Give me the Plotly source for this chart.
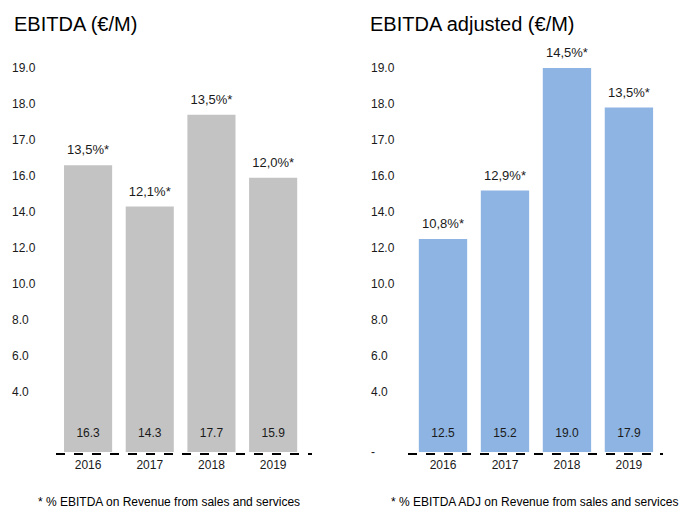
import numpy as np
import plotly.graph_objects as go

W, H = 679, 510

years = ["2016", "2017", "2018", "2019"]
ebitda = [16.3, 14.3, 17.7, 15.9]
ebitda_margin = ["13,5%*", "12,1%*", "13,5%*", "12,0%*"]
ebitda_adj = [12.5, 15.2, 19.0, 17.9]
ebitda_adj_margin = ["10,8%*", "12,9%*", "14,5%*", "13,5%*"]

# Value axis: labelled levels sit on an uneven (broken) scale
axis_levels = [0, 4, 6, 8, 10, 12, 14, 16, 17, 18, 19]
axis_slots = [0, 60 / 36, 2 + 24 / 36, 3 + 24 / 36, 4 + 24 / 36, 5 + 24 / 36,
              6 + 24 / 36, 7 + 24 / 36, 8 + 24 / 36, 9 + 24 / 36, 10 + 24 / 36]
left_ticks = ["19.0", "18.0", "17.0", "16.0", "14.0", "12.0", "10.0", "8.0", "6.0", "4.0"]
right_ticks = left_ticks + ["-"]

titles = ["EBITDA (€/M)", "EBITDA adjusted (€/M)"]
notes = ["* % EBITDA on Revenue from sales and services",
         "* % EBITDA ADJ on Revenue from sales and services"]

GREY = "#C3C3C3"
BLUE = "#8EB4E3"
FONT = "Liberation Sans, Arial, sans-serif"
TXT = "#1a1a1a"

UNIT_PX = 36          # pixels per axis slot
BASE_PX = 452         # pixel row of the bar base
LINE_PX = 454         # pixel row of the dashed baseline


def px(v):
    return v / W


def py(v):
    return 1 - v / H


def to_axis(vals):
    return np.interp(vals, axis_levels, axis_slots)


fig = go.Figure()

panels = [
    dict(vals=ebitda, marg=ebitda_margin, color=GREY, xa="x", ya="y",
         xdom=(px(56), px(312)), xr=(-0.52, 3.63), ypos=px(8), ticks=left_ticks),
    dict(vals=ebitda_adj, marg=ebitda_adj_margin, color=BLUE, xa="x2", ya="y2",
         xdom=(px(408), px(663)), xr=(-0.565, 3.55), ypos=px(367), ticks=right_ticks),
]

y_bottom_px, y_top_px = 472, 50
yrange = [-(y_bottom_px - BASE_PX) / UNIT_PX, (BASE_PX - y_top_px) / UNIT_PX]
ydom = [py(y_bottom_px), py(y_top_px)]
line_y = -(LINE_PX - BASE_PX) / UNIT_PX

layout = {}
for i, p in enumerate(panels):
    h = to_axis(p["vals"])
    fig.add_trace(go.Bar(
        x=years, y=h, marker=dict(color=p["color"], line=dict(width=0)),
        width=0.78, xaxis=p["xa"], yaxis=p["ya"], showlegend=False,
        hoverinfo="skip",
    ))
    # value inside the bar, near its base
    fig.add_trace(go.Scatter(
        x=years, y=[18 / UNIT_PX] * len(years), mode="text",
        text=[f"{v:.1f}" for v in p["vals"]], textposition="middle center",
        textfont=dict(family=FONT, size=12, color=TXT),
        xaxis=p["xa"], yaxis=p["ya"], showlegend=False, hoverinfo="skip",
    ))
    # margin label above the bar
    fig.add_trace(go.Scatter(
        x=years, y=h + 14 / UNIT_PX, mode="text",
        text=p["marg"], textposition="middle center",
        textfont=dict(family=FONT, size=13, color=TXT),
        xaxis=p["xa"], yaxis=p["ya"], showlegend=False, hoverinfo="skip",
        cliponaxis=False,
    ))
    xkey = "xaxis" if i == 0 else "xaxis2"
    ykey = "yaxis" if i == 0 else "yaxis2"
    levels_shown = axis_levels[::-1] if len(p["ticks"]) == 11 else axis_levels[:0:-1]
    layout[xkey] = dict(
        domain=list(p["xdom"]), range=list(p["xr"]), anchor="free",
        position=py(LINE_PX), type="category", showline=False, showgrid=False,
        zeroline=False, ticks="", ticklabelstandoff=2,
        tickfont=dict(family=FONT, size=12, color=TXT),
    )
    layout[ykey] = dict(
        domain=ydom, range=yrange, anchor="free", position=p["ypos"],
        showline=False, showgrid=False, zeroline=False, ticks="",
        tickvals=list(to_axis(levels_shown)), ticktext=p["ticks"],
        ticklabelposition="inside", ticklabelstandoff=0,
        tickfont=dict(family=FONT, size=12, color=TXT),
    )
    # dashed baseline
    fig.add_shape(type="line", xref=f"{p['xa']} domain", yref=p["ya"],
                  x0=0, x1=1, y0=line_y, y1=line_y,
                  line=dict(color="#000000", width=2, dash="dash"))

fig.add_annotation(x=px(12), y=py(24), xref="paper", yref="paper", text=titles[0],
                   showarrow=False, xanchor="left", yanchor="middle",
                   font=dict(family=FONT, size=20, color="#000000"))
fig.add_annotation(x=px(368), y=py(24), xref="paper", yref="paper", text=titles[1],
                   showarrow=False, xanchor="left", yanchor="middle",
                   font=dict(family=FONT, size=20, color="#000000"))
fig.add_annotation(x=px(169), y=py(502), xref="paper", yref="paper", text=notes[0],
                   showarrow=False, xanchor="center", yanchor="middle",
                   font=dict(family=FONT, size=12, color="#000000"))
fig.add_annotation(x=px(534), y=py(502), xref="paper", yref="paper", text=notes[1],
                   showarrow=False, xanchor="center", yanchor="middle",
                   font=dict(family=FONT, size=12, color="#000000"))

fig.update_layout(
    width=W, height=H, margin=dict(l=0, r=0, t=0, b=0),
    paper_bgcolor="white", plot_bgcolor="white", bargap=0.22,
    font=dict(family=FONT, size=12, color=TXT),
    **layout,
)

fig.write_html("out.html")
